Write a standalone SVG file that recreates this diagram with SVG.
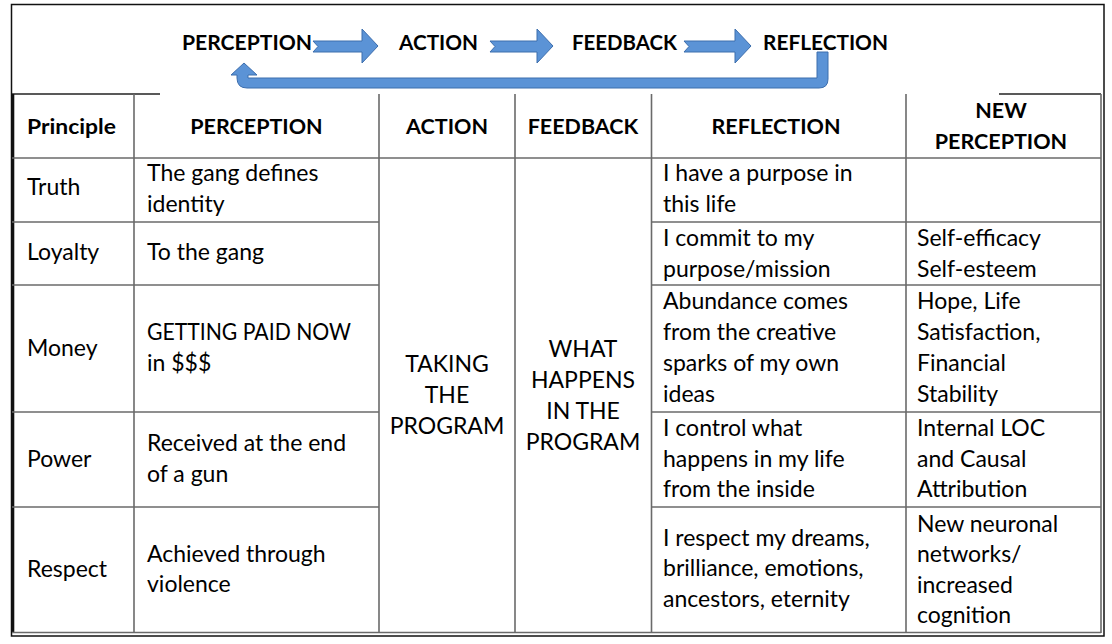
<svg xmlns="http://www.w3.org/2000/svg" width="1112" height="644" viewBox="0 0 1112 644">
<style>
  .t { font-family: Lato, "Liberation Sans", sans-serif; font-size: 23px; fill: #000; }
  .h { font-family: Lato, "Liberation Sans", sans-serif; font-size: 21.5px; font-weight: bold; fill: #000; }
  .c { text-anchor: middle; }
  .grid { stroke: #6a6a6a; stroke-width: 1.6; fill: none; }
  .arr { fill: #5B93D6; stroke: #3D6EAD; stroke-width: 1; stroke-linejoin: round; }
</style>
<rect width="1112" height="644" fill="#ffffff"/>
<!-- outer frame -->
<rect x="11.5" y="4.5" width="1092.5" height="631.5" fill="none" stroke="#111" stroke-width="1.5"/>

<!-- cycle diagram -->
<g id="cycle">
  <g id="n-perception"><text class="h" x="182" y="50" textLength="130" lengthAdjust="spacingAndGlyphs">PERCEPTION</text></g>
  <g id="n-action"><text class="h" x="399" y="50" textLength="79" lengthAdjust="spacingAndGlyphs">ACTION</text></g>
  <g id="n-feedback"><text class="h" x="572" y="50" textLength="105" lengthAdjust="spacingAndGlyphs">FEEDBACK</text></g>
  <g id="n-reflection"><text class="h" x="763" y="50" textLength="125" lengthAdjust="spacingAndGlyphs">REFLECTION</text></g>
  <g id="connectors">
    <path class="arr" d="M313,41 L362,41 L362,29 L378,46 L362,63 L362,52 L313,52 L318,46.5 Z"/>
    <path class="arr" d="M490,41 L537,41 L537,29 L553,46 L537,63 L537,52 L490,52 L495,46.5 Z"/>
    <path class="arr" d="M684,41 L735,41 L735,29 L751,46 L735,63 L735,52 L684,52 L689,46.5 Z"/>
    <path class="arr" d="M817,52 L828,52 L828,79 Q828,88 819,88 L247,88 Q237,88 237,78 L237,75 L231,75 L244,63 L257,75 L248,75 L248,78 L817,78 Z"/>
  </g>
</g>

<!-- table grid -->
<g id="table-grid">
  <line x1="12" y1="94" x2="160" y2="94" stroke="#222" stroke-width="1.6"/>
  <line x1="999" y1="94" x2="1101" y2="94" stroke="#222" stroke-width="1.6"/>
  <line x1="12.8" y1="94" x2="12.8" y2="633" stroke="#111" stroke-width="3"/>
  <line class="grid" x1="1101" y1="94" x2="1101" y2="633" stroke-width="2"/>
  <line class="grid" x1="12" y1="632.5" x2="1101" y2="632.5"/>
  <line class="grid" x1="134" y1="94" x2="134" y2="633"/>
  <line class="grid" x1="379" y1="94" x2="379" y2="633"/>
  <line class="grid" x1="515" y1="94" x2="515" y2="633"/>
  <line class="grid" x1="651.5" y1="94" x2="651.5" y2="633"/>
  <line class="grid" x1="906" y1="94" x2="906" y2="633"/>
  <line class="grid" x1="12" y1="158" x2="1101" y2="158"/>
  <line class="grid" x1="12" y1="222" x2="379" y2="222"/>
  <line class="grid" x1="651" y1="222" x2="1101" y2="222"/>
  <line class="grid" x1="12" y1="285" x2="379" y2="285"/>
  <line class="grid" x1="651" y1="285" x2="1101" y2="285"/>
  <line class="grid" x1="12" y1="412" x2="379" y2="412"/>
  <line class="grid" x1="651" y1="412" x2="1101" y2="412"/>
  <line class="grid" x1="12" y1="507" x2="379" y2="507"/>
  <line class="grid" x1="651" y1="507" x2="1101" y2="507"/>
</g>

<!-- header -->
<g id="header">
  <text class="h" x="27" y="134" textLength="89" lengthAdjust="spacingAndGlyphs">Principle</text>
  <text class="h c" x="256.5" y="134">PERCEPTION</text>
  <text class="h c" x="447" y="134">ACTION</text>
  <text class="h c" x="583" y="134">FEEDBACK</text>
  <text class="h c" x="776" y="134">REFLECTION</text>
  <text class="h c" x="1001" y="118">NEW</text>
  <text class="h c" x="1001" y="149">PERCEPTION</text>
</g>

<g id="row-truth">
  <text class="t" x="27" y="195">Truth</text>
  <text class="t" x="147" y="181">The gang defines</text>
  <text class="t" x="147" y="212">identity</text>
  <text class="t" x="663" y="181">I have a purpose in</text>
  <text class="t" x="663" y="212">this life</text>
</g>
<g id="row-loyalty">
  <text class="t" x="27" y="260">Loyalty</text>
  <text class="t" x="147" y="260">To the gang</text>
  <text class="t" x="663" y="246">I commit to my</text>
  <text class="t" x="663" y="277">purpose/mission</text>
  <text class="t" x="917" y="246">Self-efficacy</text>
  <text class="t" x="917" y="277">Self-esteem</text>
</g>
<g id="row-money">
  <text class="t" x="27" y="356">Money</text>
  <text class="t" x="147" y="340" textLength="204" lengthAdjust="spacingAndGlyphs">GETTING PAID NOW</text>
  <text class="t" x="147" y="371">in $$$</text>
  <text class="t" x="663" y="309">Abundance comes</text>
  <text class="t" x="663" y="340">from the creative</text>
  <text class="t" x="663" y="371">sparks of my own</text>
  <text class="t" x="663" y="402">ideas</text>
  <text class="t" x="917" y="309">Hope, Life</text>
  <text class="t" x="917" y="340">Satisfaction,</text>
  <text class="t" x="917" y="371">Financial</text>
  <text class="t" x="917" y="402">Stability</text>
</g>
<g id="row-power">
  <text class="t" x="27" y="467">Power</text>
  <text class="t" x="147" y="451">Received at the end</text>
  <text class="t" x="147" y="482">of a gun</text>
  <text class="t" x="663" y="436">I control what</text>
  <text class="t" x="663" y="467">happens in my life</text>
  <text class="t" x="663" y="497">from the inside</text>
  <text class="t" x="917" y="436">Internal LOC</text>
  <text class="t" x="917" y="467">and Causal</text>
  <text class="t" x="917" y="497">Attribution</text>
</g>
<g id="row-respect">
  <text class="t" x="27" y="577">Respect</text>
  <text class="t" x="147" y="562">Achieved through</text>
  <text class="t" x="147" y="592">violence</text>
  <text class="t" x="663" y="546">I respect my dreams,</text>
  <text class="t" x="663" y="576">brilliance, emotions,</text>
  <text class="t" x="663" y="607">ancestors, eternity</text>
  <text class="t" x="917" y="532">New neuronal</text>
  <text class="t" x="917" y="562">networks/</text>
  <text class="t" x="917" y="593">increased</text>
  <text class="t" x="917" y="623">cognition</text>
</g>
<g id="action-cell">
  <text class="t c" x="447" y="372">TAKING</text>
  <text class="t c" x="447" y="403">THE</text>
  <text class="t c" x="447" y="434">PROGRAM</text>
</g>
<g id="feedback-cell">
  <text class="t c" x="583" y="357">WHAT</text>
  <text class="t c" x="583" y="388">HAPPENS</text>
  <text class="t c" x="583" y="419">IN THE</text>
  <text class="t c" x="583" y="450">PROGRAM</text>
</g>
</svg>
